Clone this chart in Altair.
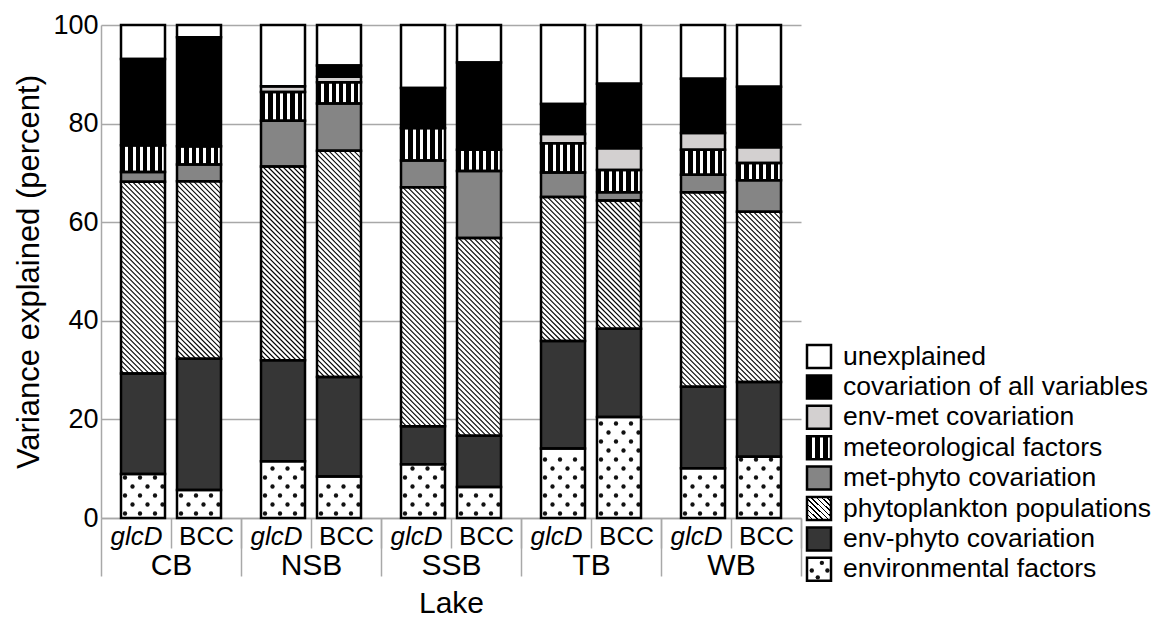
import json
import altair as alt
import pandas as pd

# ---------------- data ----------------
lakes = ["CB", "NSB", "SSB", "TB", "WB"]
types = ["glcD", "BCC"]
components = [
    "environmental factors",
    "env-phyto covariation",
    "phytoplankton populations",
    "met-phyto covariation",
    "meteorological factors",
    "env-met covariation",
    "covariation of all variables",
    "unexplained",
]
# bar order: CB glcD, CB BCC, NSB glcD, NSB BCC, SSB glcD, SSB BCC, TB glcD, TB BCC, WB glcD, WB BCC
environmental = [8.9, 5.7, 11.5, 8.4, 10.9, 6.3, 14.1, 20.5, 10.1, 12.4]
env_phyto = [20.4, 26.6, 20.5, 20.2, 7.7, 10.4, 21.8, 17.9, 16.5, 15.2]
phyto = [38.9, 36.0, 39.3, 45.9, 48.5, 40.1, 29.2, 26.0, 39.5, 34.5]
met_phyto = [2.0, 3.4, 9.3, 9.6, 5.4, 13.6, 5.0, 1.7, 3.5, 6.4]
meteorological = [5.4, 3.7, 5.8, 4.3, 6.6, 4.3, 5.9, 4.5, 5.1, 3.5]
env_met = [0.0, 0.0, 1.2, 1.1, 0.0, 0.0, 1.9, 4.4, 3.4, 3.2]
cov_all = [17.5, 22.1, 0.0, 2.3, 8.1, 17.7, 6.1, 13.1, 11.0, 12.3]
unexplained = [6.9, 2.5, 12.4, 8.2, 12.8, 7.6, 16.0, 11.9, 10.9, 12.5]
series = [environmental, env_phyto, phyto, met_phyto, meteorological, env_met, cov_all, unexplained]

fills = ["#ffffff", "#363636", "#ffffff", "#858585", "#ffffff", "#d3d0d0", "#000000", "#ffffff"]

rows = []
for g, lake in enumerate(lakes):
    for t, typ in enumerate(types):
        i = g * len(types) + t
        for k, (comp, vals) in enumerate(zip(components, series)):
            rows.append(dict(lake=lake, type=typ, g=g, t=t, component=comp, order=k, value=vals[i]))
df = pd.DataFrame(rows)

# ---------------- layout / style constants ----------------
W, H = 700, 493
NSLOT = len(lakes) * len(types)
PXX = W / NSLOT          # px per x unit
PXY = H / 100.0          # px per percent
HALF = 22 / PXX          # half bar width (units)
SHIFT = 7 / PXX          # bars pulled toward group centre
GRAY = "#a8a8a8"
FONT = "Liberation Sans"


def stripes(n, white_frac):
    stops = []
    for i in range(n):
        a, c = i / n, (i + 1) / n
        b = (i + 1 - white_frac) / n
        stops += [{"offset": a, "color": "black"}, {"offset": b, "color": "black"},
                  {"offset": b, "color": "white"}, {"offset": c, "color": "white"}]
    return {"gradient": "linear", "x1": 0, "y1": 0, "x2": 1, "y2": 0, "stops": stops}


def hatch(n, dark_frac):
    stops = []
    for i in range(n):
        a, c = i / n, (i + 1) / n
        b = (i + dark_frac) / n
        stops += [{"offset": a, "color": "black"}, {"offset": b, "color": "black"},
                  {"offset": b, "color": "white"}, {"offset": c, "color": "white"}]
    return {"gradient": "linear", "x1": 0, "y1": 1, "x2": 1, "y2": 0, "stops": stops}


color_scale = alt.Scale(domain=components, range=fills)
x_scale = alt.Scale(domain=[0, NSLOT], nice=False, zero=False)
y_scale = alt.Scale(domain=[0, 100], nice=False)

lake_arr = json.dumps(lakes)
# short separators between glcD/BCC + sub labels (labels shifted back half a slot)
axis_sub = alt.Axis(
    orient="bottom", values=list(range(1, NSLOT + 1)), grid=False,
    domain=True, domainColor=GRAY, domainWidth=1.5,
    ticks=True, tickSize=30, tickColor=GRAY, tickWidth=1.5,
    labelOffset=-PXX / 2, labelPadding=-25,
    labelExpr=f"datum.value % 2 == 1 ? '{types[0]}' : '{types[1]}'",
    labelFontStyle={"condition": {"test": "datum.value % 2 == 1", "value": "italic"}, "value": "normal"},
    labelFont=FONT, labelFontSize=26, labelColor="black",
    labelFlush=False, labelOverlap=False, title=None,
)
# long separators between lakes + lake labels (shifted back one slot)
axis_lake = alt.Axis(
    orient="bottom", values=list(range(2, NSLOT + 1, 2)), grid=False, domain=False,
    ticks=True, tickSize=58, tickColor=GRAY, tickWidth=1.5,
    labelOffset=-PXX, labelPadding=-26,
    labelExpr=f"{lake_arr}[floor(datum.value / 2) - 1]",
    labelFont=FONT, labelFontSize=30, labelColor="black",
    labelFlush=False, labelOverlap=False,
    title="Lake", titleFont=FONT, titleFontSize=30, titleFontWeight="normal",
    titleColor="black", titlePadding=8,
)
# the left-most long separator
axis_edge = alt.Axis(
    orient="bottom", values=[0], grid=False, domain=False, labels=False,
    ticks=True, tickSize=58, tickColor=GRAY, tickWidth=1.5, title=None,
)
axis_y = alt.Axis(
    values=[0, 20, 40, 60, 80, 100], grid=True, gridColor=GRAY, gridWidth=1.5,
    domain=True, domainColor=GRAY, domainWidth=1.5, ticks=False,
    labelFont=FONT, labelFontSize=27, labelColor="black", labelPadding=3,
    title="Variance explained (percent)", titleFont=FONT, titleFontSize=31,
    titleFontWeight="normal", titleColor="black", titlePadding=7,
)

base = alt.Chart(df).transform_stack(
    stack="value", groupby=["lake", "type"], as_=["y0", "y1"],
    sort=[alt.SortField(field="order", order="ascending")],
).transform_calculate(
    xc=f"2*datum.g + datum.t + 0.5 + (datum.t == 0 ? {SHIFT} : -{SHIFT})",
).transform_calculate(
    xl=f"datum.xc - {HALF}", xr=f"datum.xc + {HALF}",
)

fill_layer = base.mark_rect(strokeWidth=0).encode(
    x=alt.X("xl:Q", scale=x_scale, axis=axis_sub), x2="xr",
    y=alt.Y("y0:Q", scale=y_scale, axis=axis_y), y2="y1",
    fill=alt.Fill("component:N", scale=color_scale, legend=None),
)

stripe_layer = base.transform_filter(
    f"datum.component == '{components[4]}'"
).mark_rect(fill=stripes(6, 0.4), strokeWidth=0).encode(
    x=alt.X("xl:Q", axis=axis_edge), x2="xr", y=alt.Y("y0:Q", axis=None), y2="y1",
)

dot_layer = base.transform_filter(
    f"datum.component == '{components[0]}'"
).transform_calculate(
    hp=f"(datum.y1 - datum.y0) * {PXY}",
).transform_calculate(
    rws="sequence(0, max(0, floor((datum.hp - 7) / 9) + 1))",
).transform_flatten(["rws"]).transform_calculate(
    cls="datum.rws % 2 == 0 ? [4, 19, 34] : [11.5, 26.5, 41.5]",
).transform_flatten(["cls"]).transform_calculate(
    dxp=f"datum.xl + datum.cls / {PXX}",
    dyp=f"datum.y0 + (4.5 + datum.rws * 9) / {PXY}",
).mark_point(filled=True, size=19, color="#111111", opacity=1).encode(
    x=alt.X("dxp:Q", axis=None), y=alt.Y("dyp:Q", axis=None),
)

hatch_layer = base.transform_filter(
    f"datum.component == '{components[2]}'"
).transform_calculate(
    wp=f"(datum.xr - datum.xl) * {PXX}", hp=f"(datum.y1 - datum.y0) * {PXY}",
).transform_calculate(
    ks="sequence(-datum.wp + 2.5, datum.hp, 5)",
).transform_flatten(["ks"]).transform_calculate(
    ua="max(0, -datum.ks)", ub="min(datum.wp, datum.hp - datum.ks)",
).transform_filter("datum.ub > datum.ua").transform_calculate(
    hx1=f"datum.xl + datum.ua / {PXX}", hy1=f"datum.y1 - (datum.ua + datum.ks) / {PXY}",
    hx2=f"datum.xl + datum.ub / {PXX}", hy2=f"datum.y1 - (datum.ub + datum.ks) / {PXY}",
).mark_rule(color="black", strokeWidth=1.1).encode(
    x=alt.X("hx1:Q", axis=None), y=alt.Y("hy1:Q", axis=None), x2="hx2", y2="hy2",
)

outline_layer = base.mark_rect(fillOpacity=0, stroke="black", strokeWidth=2.5).encode(
    x=alt.X("xl:Q", axis=axis_lake), x2="xr", y=alt.Y("y0:Q", axis=None), y2="y1",
)

main = alt.layer(
    fill_layer, stripe_layer, dot_layer, hatch_layer, outline_layer
).resolve_axis(x="independent", y="independent").properties(width=W, height=H)

# ---------------- legend panel ----------------
legend_order = components[::-1]
leg_df = pd.DataFrame({"component": legend_order, "idx": list(range(len(legend_order)))})
R0, STEP, BOX = 320, 30.4, 23.0
FR = BOX / STEP
leg_ys = alt.Scale(domain=[0, len(legend_order)], range=[R0, R0 + STEP * len(legend_order)],
                   nice=False, zero=False)
leg_x = alt.Scale(domain=[0, 1], range=[0, 24], nice=False)
leg_base = alt.Chart(leg_df).transform_calculate(
    sx0="0", sx1="1", tx="1.5",
    ya="datum.idx", yb=f"datum.idx + {FR}", ym=f"datum.idx + {FR / 2}",
)


def box_enc():
    return dict(x=alt.X("sx0:Q", scale=leg_x, axis=None), x2="sx1",
                y=alt.Y("ya:Q", scale=leg_ys, axis=None), y2="yb")


l_fill = leg_base.mark_rect(strokeWidth=0).encode(
    fill=alt.Fill("component:N", scale=color_scale, legend=None), **box_enc())
l_stripes = leg_base.transform_filter(f"datum.component == '{components[4]}'").mark_rect(
    fill=stripes(3, 0.4), strokeWidth=0).encode(**box_enc())
l_hatch = leg_base.transform_filter(f"datum.component == '{components[2]}'").mark_rect(
    fill=hatch(9, 0.3), strokeWidth=0).encode(**box_enc())
l_dots = leg_base.transform_filter(f"datum.component == '{components[0]}'").transform_calculate(
    pt="[[0.22, 0.62], [0.55, 0.2], [0.55, 0.85], [0.85, 0.45]]",
).transform_flatten(["pt"]).transform_calculate(
    dyy=f"datum.idx + datum.pt[0] * {FR}", px="datum.pt[1]",
).mark_point(filled=True, size=19, color="#111111", opacity=1).encode(
    x=alt.X("px:Q", scale=leg_x, axis=None), y=alt.Y("dyy:Q", scale=leg_ys, axis=None),
)
l_outline = leg_base.mark_rect(fillOpacity=0, stroke="black", strokeWidth=2.5).encode(**box_enc())
l_text = leg_base.mark_text(align="left", baseline="middle", font=FONT, fontSize=26.5,
                            color="black").encode(
    x=alt.X("tx:Q", scale=leg_x, axis=None), y=alt.Y("ym:Q", scale=leg_ys, axis=None),
    text="component:N")

legend = alt.layer(l_fill, l_stripes, l_hatch, l_dots, l_outline, l_text).properties(
    width=340, height=H)

chart = alt.hconcat(main, legend, spacing=3).configure_view(strokeWidth=0).properties(
    padding={"left": 5, "top": 3, "right": 0, "bottom": 0})

chart.save("out.html", embed_options={"renderer": "svg", "actions": False})
